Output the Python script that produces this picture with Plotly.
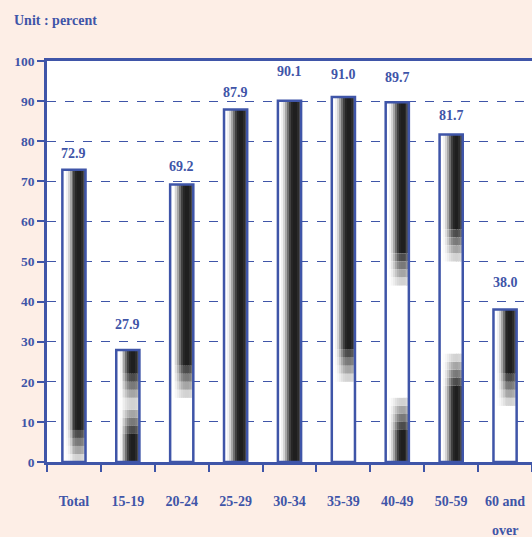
import plotly.graph_objects as go

categories = ["Total", "15-19", "20-24", "25-29", "30-34", "35-39", "40-49", "50-59", "60 and over"]
values = [72.9, 27.9, 69.2, 87.9, 90.1, 91.0, 89.7, 81.7, 38.0]
y_ticks = [0, 10, 20, 30, 40, 50, 60, 70, 80, 90, 100]

# style: pixel gap between bar top and its value label
label_gap = [16, 26, 18, 17, 29, 23, 25, 19, 27]
# style: vertical spans (axis units) of the dark shading inside each bar
shade_spans = [
    [(8, 72.9)],
    [(0, 7), (22, 27.9)],
    [(24, 69.2)],
    [(0, 87.9)],
    [(0, 90.1)],
    [(28, 91.0)],
    [(52, 89.7), (0, 8)],
    [(58, 81.7), (0, 19)],
    [(22, 38.0)],
]
FADE = 2.0  # axis units per fade step

BLUE = "#3F55A8"
BG = "#FDEEE6"
FONT = "Liberation Serif"
BAR_W = 0.43

# horizontal "cylinder" shading (left -> right), grey levels
shades = [255, 255, 242, 212, 166, 112, 64, 38, 31, 31, 44, 74]
levels = [1.0, 0.8, 0.6, 0.4, 0.2]  # core, then fade steps


def grey(v, t):
    g = int(round(255 - (255 - v) * t))
    return f"rgb({g},{g},{g})"


fig = go.Figure()
fig.add_trace(go.Bar(x=categories, y=values, width=BAR_W, offset=-BAR_W / 2,
                     marker=dict(color="white", line=dict(width=0)),
                     hoverinfo="skip", showlegend=False))

# build shading segments per intensity level
segs = {t: ([], [], []) for t in levels}
for c, v, spans in zip(categories, values, shade_spans):
    for lo, hi in spans:
        xs, bs, hs = segs[1.0]
        xs.append(c); bs.append(lo); hs.append(hi - lo)
        for k, t in enumerate(levels[1:]):
            if lo - FADE * k > 0:
                b0 = max(0, lo - FADE * (k + 1))
                xs, bs, hs = segs[t]
                xs.append(c); bs.append(b0); hs.append(lo - FADE * k - b0)
            if hi + FADE * k < v:
                t0 = min(v, hi + FADE * (k + 1))
                xs, bs, hs = segs[t]
                xs.append(c); bs.append(hi + FADE * k); hs.append(t0 - hi - FADE * k)

n = len(shades)
sw = BAR_W / n
for t in levels:
    xs, bs, hs = segs[t]
    if not xs:
        continue
    for i, sv in enumerate(shades):
        if sv >= 255:
            continue
        fig.add_trace(go.Bar(x=xs, y=hs, base=bs, width=sw,
                             offset=-BAR_W / 2 + i * sw,
                             marker=dict(color=grey(sv, t), line=dict(width=0)),
                             hoverinfo="skip", showlegend=False))

fig.add_trace(go.Bar(x=categories, y=values, width=BAR_W, offset=-BAR_W / 2,
                     marker=dict(color="rgba(0,0,0,0)", line=dict(width=2.5, color=BLUE)),
                     showlegend=False))

for c, v, g in zip(categories, values, label_gap):
    fig.add_annotation(x=c, y=v, text=f"<b>{v:.1f}</b>", showarrow=False,
                       yanchor="middle", yshift=g,
                       font=dict(family=FONT, size=14, color=BLUE))

tick_text = []
for c in categories:
    if len(c) > 6:
        first, second = c.rsplit(" ", 1)
        tick_text.append(f"<b>{first}</b>")
        fig.add_annotation(x=c, y=0, yref="y", text=f"<b>{second}</b>", showarrow=False,
                           yanchor="middle", yshift=-68,
                           font=dict(family=FONT, size=14, color=BLUE))
    else:
        tick_text.append(f"<b>{c}</b>")

fig.add_annotation(xref="paper", yref="paper", x=-0.072, y=1.102, xanchor="left",
                   yanchor="middle", text="<b>Unit : percent</b>", showarrow=False,
                   font=dict(family=FONT, size=14, color=BLUE))

fig.update_layout(
    width=532, height=537,
    margin=dict(l=47, r=0, t=61, b=75),
    paper_bgcolor=BG, plot_bgcolor="white",
    barmode="overlay",
    font=dict(family=FONT, size=14, color=BLUE),
)
fig.update_xaxes(
    type="category", range=[-0.5, 8.5],
    tickvals=categories, ticktext=tick_text,
    tickson="boundaries", ticks="outside", ticklen=7, tickwidth=1.5, tickcolor=BLUE,
    ticklabelstandoff=24,
    showline=True, linecolor=BLUE, linewidth=2.5, mirror=True,
    showgrid=False, tickfont=dict(family=FONT, size=14, color=BLUE),
)
fig.update_yaxes(
    range=[0, 100], tickvals=y_ticks, ticktext=[f"<b>{t}</b>" for t in y_ticks],
    ticks="outside", ticklen=7, tickwidth=1.5, tickcolor=BLUE,
    showline=True, linecolor=BLUE, linewidth=2.5, mirror=False,
    showgrid=True, gridcolor=BLUE, gridwidth=1, griddash="dash",
    zeroline=False, tickfont=dict(family=FONT, size=13.5, color=BLUE),
)

fig.write_html(
    "out.html",
    config={"displayModeBar": False},
    post_script=f"document.body.style.margin='0';document.body.style.background='{BG}';",
)
